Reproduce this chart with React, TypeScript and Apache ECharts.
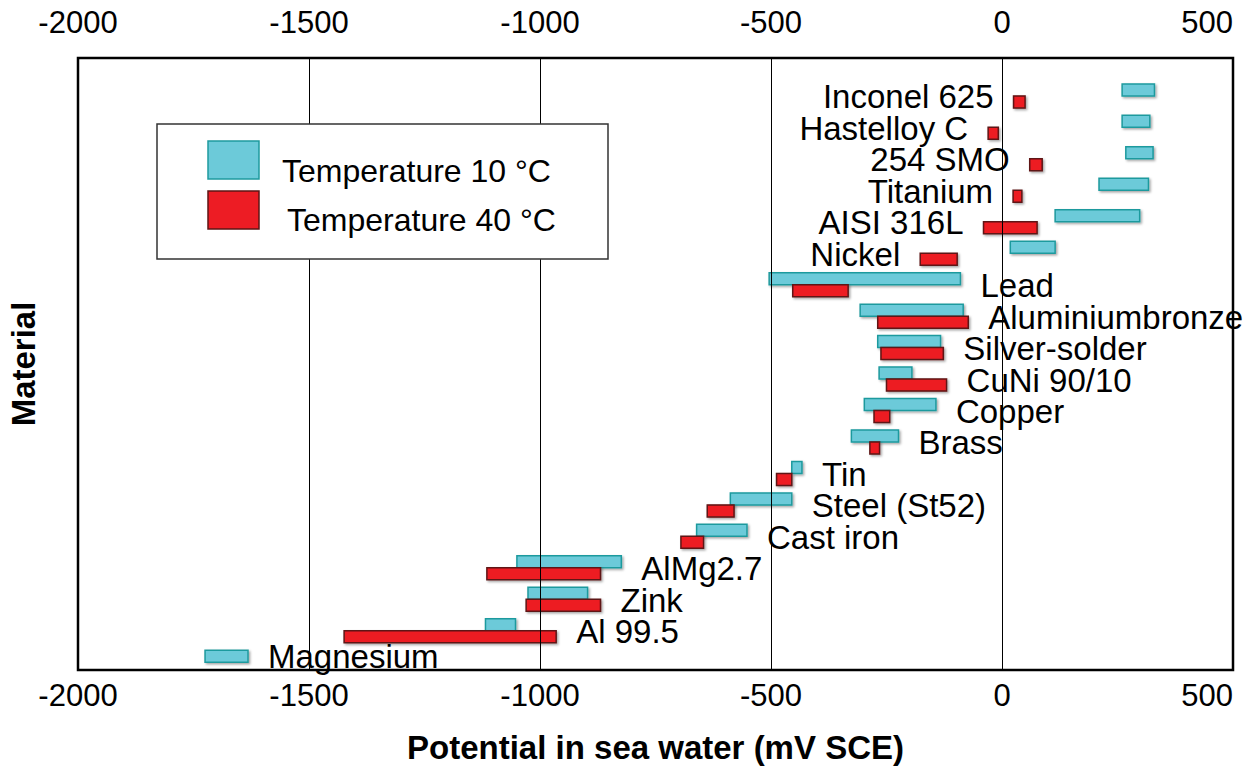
import React, { useEffect, useRef } from "react";
import * as echarts from "echarts";

// ---- data (mV SCE) ----
const materials = [
  "Inconel 625", "Hastelloy C", "254 SMO", "Titanium", "AISI 316L", "Nickel", "Lead",
  "Aluminiumbronze", "Silver-solder", "CuNi 90/10", "Copper", "Brass", "Tin",
  "Steel (St52)", "Cast iron", "AlMg2.7", "Zink", "Al 99.5", "Magnesium",
];
const t10Low = [260, 260, 268, 210, 115, 18, -504, -307, -269, -266, -298, -326, -455, -588, -661, -1050, -1026, -1118, -1725];
const t10High = [330, 320, 327, 317, 298, 115, -90, -84, -133, -195, -143, -224, -433, -455, -552, -824, -897, -1053, -1632];
const t40Low: (number | null)[] = [25, -30, 60, 24, -40, -177, -453, -269, -262, -250, -277, -286, -488, -638, -695, -1115, -1030, -1424, null];
const t40High: (number | null)[] = [50, -8, 87, 43, 76, -97, -333, -73, -127, -120, -243, -265, -455, -580, -646, -869, -869, -965, null];
const xTicks = [-2000, -1500, -1000, -500, 0, 500];

const SERIES_10 = "Temperature 10 °C";
const SERIES_40 = "Temperature 40 °C";

const FONT = '"Liberation Sans", Arial, sans-serif';
const CYAN = "#6CCAD9";
const CYAN_EDGE = "#1E9A9E";
const RED = "#ED1C24";
const RED_EDGE = "#5E1515";
const BAR_H = 12;
const LABEL_GAP = 20;

const shadow = {
  shadowColor: "rgba(0,0,0,0.35)",
  shadowBlur: 2,
  shadowOffsetX: 1.5,
  shadowOffsetY: 1.5,
};

function barRenderer(upper: boolean, fill: string, stroke: string) {
  return (params: any, api: any) => {
    const row = api.value(0);
    const p1 = api.coord([api.value(1), row]);
    const p2 = api.coord([api.value(2), row]);
    return {
      type: "rect",
      shape: {
        x: p1[0],
        y: upper ? p1[1] - BAR_H : p1[1],
        width: p2[0] - p1[0],
        height: BAR_H,
      },
      style: { fill, stroke, lineWidth: 1.5, ...shadow },
    };
  };
}

export default function App() {
  const ref = useRef<HTMLDivElement>(null);

  useEffect(() => {
    if (!ref.current) return;
    const chart = echarts.init(ref.current, null, { renderer: "svg" });

    const data10 = materials.map((m, i) => ({ name: m, value: [i, t10Low[i], t10High[i]] }));
    const data40 = materials
      .map((m, i) => ({ name: m, value: [i, t40Low[i], t40High[i]] }))
      .filter((d) => d.value[1] !== null);
    const labelData = materials.map((m, i) => {
      const lows = [t10Low[i], t40Low[i]].filter((v) => v !== null) as number[];
      const highs = [t10High[i], t40High[i]].filter((v) => v !== null) as number[];
      return { name: m, value: [i, Math.min(...lows), Math.max(...highs)] };
    });

    const tickFmt = (v: number) => (xTicks.includes(v) ? String(v) : "");

    const legendText = (text: string, x: number, y: number) => ({
      type: "text",
      x,
      y,
      z: 11,
      style: { text, fill: "#000", fontSize: 32, fontFamily: FONT, align: "left", verticalAlign: "middle" },
    });

    chart.setOption({
      animation: false,
      textStyle: { fontFamily: FONT },
      grid: {
        left: 78,
        right: 18,
        top: 58,
        bottom: 101,
        outerBoundsMode: "none",
        containLabel: false,
        show: true,
        borderColor: "#000",
        borderWidth: 2.5,
        backgroundColor: "transparent",
      },
      graphic: [
        {
          type: "group",
          z: 10,
          children: [
            {
              type: "rect",
              z: 10,
              shape: { x: 157, y: 124, width: 451, height: 135 },
              style: { fill: "#fff", stroke: "#333", lineWidth: 1.5 },
            },
            {
              type: "rect",
              z: 11,
              shape: { x: 208, y: 141, width: 51, height: 38 },
              style: { fill: CYAN, stroke: CYAN_EDGE, lineWidth: 1.5 },
            },
            {
              type: "rect",
              z: 11,
              shape: { x: 208, y: 191, width: 51, height: 38 },
              style: { fill: RED, stroke: RED_EDGE, lineWidth: 1.5 },
            },
            legendText(SERIES_10, 282, 171),
            legendText(SERIES_40, 287, 220),
          ],
        },
      ],
      xAxis: [
        {
          type: "value",
          position: "bottom",
          min: -2000,
          max: 500,
          interval: 500,
          z: 3,
          axisLine: { show: false },
          axisTick: { show: false },
          axisLabel: { fontSize: 31, color: "#000", margin: 10, formatter: tickFmt, alignMaxLabel: "right" },
          splitLine: { show: true, lineStyle: { color: "#000", width: 1 } },
          name: "Potential in sea water (mV SCE)",
          nameLocation: "middle",
          nameGap: 61,
          nameTextStyle: { fontSize: 33, fontWeight: "bold", color: "#000" },
        },
        {
          type: "value",
          position: "top",
          min: -2000,
          max: 500,
          interval: 500,
          axisLine: { show: false },
          axisTick: { show: false },
          axisLabel: { fontSize: 31, color: "#000", margin: 20, formatter: tickFmt, alignMaxLabel: "right" },
          splitLine: { show: false },
        },
      ],
      yAxis: {
        type: "value",
        inverse: true,
        min: -1.205,
        max: 18.248,
        axisLine: { show: false },
        axisTick: { show: false },
        axisLabel: { show: false },
        splitLine: { show: false },
        name: "Material",
        nameLocation: "middle",
        nameGap: 38,
        nameRotate: 90,
        nameTextStyle: { fontSize: 33, fontWeight: "bold", color: "#000" },
      },
      series: [
        {
          name: SERIES_10,
          type: "custom",
          silent: true,
          encode: { x: [1, 2], y: 0 },
          renderItem: barRenderer(true, CYAN, CYAN_EDGE),
          data: data10,
        },
        {
          name: SERIES_40,
          type: "custom",
          silent: true,
          encode: { x: [1, 2], y: 0 },
          renderItem: barRenderer(false, RED, RED_EDGE),
          data: data40,
        },
        {
          name: "labels",
          type: "custom",
          silent: true,
          z: 4,
          encode: { x: [1, 2], y: 0 },
          renderItem: (params: any, api: any) => {
            const i = params.dataIndex;
            const row = api.value(0);
            const hasHot = t40Low[i] !== null;
            // label sits in the gap when the 40 °C range lies wholly below the 10 °C range
            const leftSide = hasHot && (t40High[i] as number) < t10Low[i];
            const pLo = api.coord([api.value(1), row]);
            const pHi = api.coord([api.value(2), row]);
            const y = hasHot ? pLo[1] + 1 : pLo[1] - BAR_H / 2;
            return {
              type: "text",
              x: leftSide ? pLo[0] - LABEL_GAP : pHi[0] + LABEL_GAP,
              y,
              style: {
                text: materials[i],
                fill: "#000",
                fontSize: 33,
                lineHeight: 26,
                fontFamily: FONT,
                align: leftSide ? "right" : "left",
                verticalAlign: "middle",
              },
            };
          },
          data: labelData,
        },
      ],
    });

    return () => chart.dispose();
  }, []);

  return (
    <div
      ref={ref}
      style={{ position: "fixed", left: 0, top: 0, width: 1251, height: 771, background: "#fff" }}
    />
  );
}
